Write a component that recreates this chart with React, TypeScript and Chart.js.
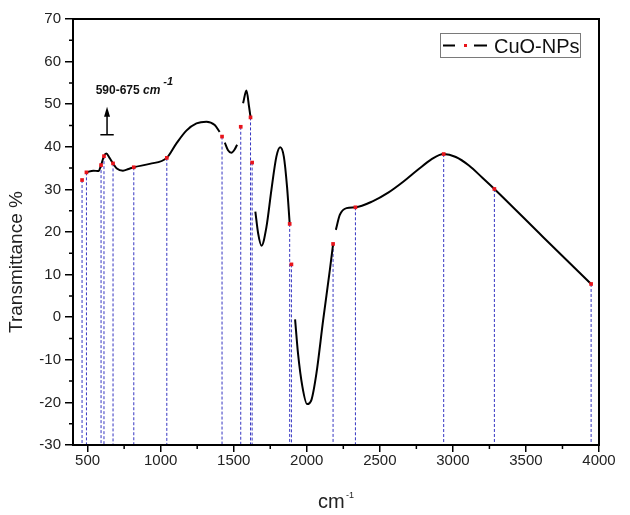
import React, { useEffect, useRef } from "react";
import { Chart, registerables } from "chart.js";

Chart.register(...registerables);

const FONT = '"Liberation Sans", Arial, Helvetica, sans-serif';

// ---- axes ----
const xMin = 400;
const xMax = 4000;
const yMin = -30;
const yMax = 70;
const xTickValues = [500, 1000, 1500, 2000, 2500, 3000, 3500, 4000];
const yTickValues = [-30, -20, -10, 0, 10, 20, 30, 40, 50, 60, 70];
const xMinorTicks = [750, 1250, 1750, 2250, 2750, 3250, 3750];
const yMinorTicks = [-25, -15, -5, 5, 15, 25, 35, 45, 55, 65];

// ---- spectrum (null = break in the trace) ----
const curveWavenumber = [
  492, 540, 575, 592, 612, 628, 650, 674, 700, 742, 780, 816, 925, 1042, 1108, 1176, 1245, 1313, 1370, 1404,
  1420,
  1439, 1461, 1484, 1505, 1523,
  1545,
  1564, 1587, 1605, 1615,
  1630,
  1648, 1667, 1690, 1724, 1758, 1792, 1818, 1843, 1865, 1883,
  1900,
  1920, 1940, 1970, 2002, 2032, 2066, 2112, 2158, 2180,
  2190,
  2199, 2226, 2272, 2333, 2450, 2560, 2660, 2760, 2850, 2937, 3020, 3110, 3200, 3284, 3615, 3946,
];
const curveTransmittance = [
  34.0, 34.4, 34.3, 35.7, 37.8, 38.4, 37.4, 36.1, 34.9, 34.4, 34.8, 35.2, 36.0, 37.4, 40.8, 43.8, 45.5, 45.9, 45.1, 43.5,
  null,
  41.0, 39.2, 38.6, 39.3, 40.5,
  null,
  50.2, 53.2, 49.4, 47.0,
  null,
  24.8, 19.7, 16.8, 21.2, 29.9, 37.7, 39.9, 37.7, 30.6, 22.0,
  null,
  -0.5, -8.5, -16.3, -20.4, -19.4, -13.2, -0.7, 11.1, 17.1,
  null,
  20.5, 24.0, 25.6, 25.8, 27.2, 29.3, 31.8, 34.6, 37.0, 38.3, 37.6, 35.6, 32.8, 30.1, 18.9, 7.8,
];

// ---- marked peaks ----
const peakWavenumber = [462, 492, 592, 612, 674, 816, 1042, 1420, 1548, 1615, 1626, 1883, 1895, 2180, 2333, 2937, 3284, 3946];
const peakTransmittance = [32.2, 34.0, 35.7, 37.8, 36.1, 35.2, 37.4, 42.4, 44.7, 46.9, 36.3, 21.9, 12.4, 17.2, 25.8, 38.3, 30.1, 7.8];

// ---- annotation ----
const annotationRange = "590-675";
const annotationUnit = "cm";
const annotationExp = "-1";
const annotationTextAt = { x: 555, y: 52.3 };
const arrowAt = { x: 633, yBase: 42.8, yTip: 49.4 };

const seriesName = "CuO-NPs";
const xTitle = "cm";
const xTitleExp = "-1";
const yTitle = "Transmittance %";

const decorPlugin = {
  id: "decor",
  afterDraw(chart: any) {
    const { ctx, chartArea, scales } = chart;
    const { left, right, top, bottom } = chartArea;
    const xs = scales.x;
    const ys = scales.y;
    ctx.save();

    // frame
    ctx.strokeStyle = "#000";
    ctx.lineWidth = 2;
    ctx.strokeRect(left, top, right - left, bottom - top);

    // minor ticks
    ctx.lineWidth = 1.5;
    ctx.beginPath();
    yMinorTicks.forEach((v) => {
      const py = ys.getPixelForValue(v);
      ctx.moveTo(left - 4, py);
      ctx.lineTo(left, py);
    });
    xMinorTicks.forEach((v) => {
      const px = xs.getPixelForValue(v);
      ctx.moveTo(px, bottom);
      ctx.lineTo(px, bottom + 4);
    });
    ctx.stroke();

    // y title
    ctx.fillStyle = "#222";
    ctx.font = `19px ${FONT}`;
    ctx.textAlign = "center";
    ctx.textBaseline = "middle";
    ctx.save();
    ctx.translate(16.5, (top + bottom) / 2 + 30);
    ctx.rotate(-Math.PI / 2);
    ctx.fillText(yTitle, 0, 0);
    ctx.restore();

    // x title with superscript
    ctx.textAlign = "left";
    ctx.textBaseline = "alphabetic";
    ctx.font = `20px ${FONT}`;
    const wMain = ctx.measureText(xTitle).width;
    ctx.font = `9px ${FONT}`;
    const wExp = ctx.measureText(xTitleExp).width;
    const cx = (left + right) / 2;
    const startX = cx - (wMain + 1.5 + wExp) / 2;
    ctx.font = `20px ${FONT}`;
    ctx.fillText(xTitle, startX, 508);
    ctx.font = `9px ${FONT}`;
    ctx.fillText(xTitleExp, startX + wMain + 1.5, 498);

    // legend
    const lx = right - 159;
    const ly = top + 13.5;
    ctx.strokeStyle = "#7a7a7a";
    ctx.lineWidth = 1;
    ctx.strokeRect(Math.round(lx) + 0.5, Math.round(ly) + 0.5, 140, 24);
    const lyMid = Math.round(ly) + 12.5;
    ctx.strokeStyle = "#000";
    ctx.lineWidth = 2;
    ctx.beginPath();
    ctx.moveTo(lx + 3, lyMid);
    ctx.lineTo(lx + 15, lyMid);
    ctx.moveTo(lx + 34, lyMid);
    ctx.lineTo(lx + 47, lyMid);
    ctx.stroke();
    ctx.fillStyle = "#e8141b";
    ctx.fillRect(lx + 24, lyMid - 1.5, 3, 3);
    ctx.fillStyle = "#111";
    ctx.font = `20px ${FONT}`;
    ctx.fillText(seriesName, lx + 54, Math.round(ly) + 20);

    // annotation
    const tx = xs.getPixelForValue(annotationTextAt.x);
    const ty = ys.getPixelForValue(annotationTextAt.y);
    ctx.fillStyle = "#111";
    ctx.font = `bold 12px ${FONT}`;
    const rangeText = annotationRange + " ";
    ctx.fillText(rangeText, tx, ty);
    const w1 = ctx.measureText(rangeText).width;
    ctx.font = `italic bold 12px ${FONT}`;
    ctx.fillText(annotationUnit, tx + w1, ty);
    const w2 = ctx.measureText(annotationUnit).width;
    ctx.font = `italic bold 11px ${FONT}`;
    ctx.fillText(annotationExp, tx + w1 + w2 + 3, ty - 9.5);

    // arrow
    const ax = xs.getPixelForValue(arrowAt.x);
    const aBase = ys.getPixelForValue(arrowAt.yBase);
    const aTip = ys.getPixelForValue(arrowAt.yTip);
    ctx.strokeStyle = "#000";
    ctx.lineWidth = 1.5;
    ctx.beginPath();
    ctx.moveTo(ax, aBase);
    ctx.lineTo(ax, aTip + 8);
    ctx.moveTo(ax - 6.7, aBase);
    ctx.lineTo(ax + 6.7, aBase);
    ctx.stroke();
    ctx.fillStyle = "#000";
    ctx.beginPath();
    ctx.moveTo(ax, aTip);
    ctx.lineTo(ax - 3, aTip + 10);
    ctx.lineTo(ax + 3, aTip + 10);
    ctx.closePath();
    ctx.fill();

    ctx.restore();
  },
};

export default function App() {
  const ref = useRef<HTMLCanvasElement>(null);

  useEffect(() => {
    const curveData = curveWavenumber.map((x, i) => ({ x, y: curveTransmittance[i] }));
    const peakData = peakWavenumber.map((x, i) => ({ x, y: peakTransmittance[i] }));
    const dropData: any[] = [];
    peakWavenumber.forEach((x, i) => {
      dropData.push({ x, y: peakTransmittance[i] });
      dropData.push({ x, y: yMin });
      dropData.push({ x, y: null });
    });

    const chart = new Chart(ref.current as HTMLCanvasElement, {
      type: "line",
      data: {
        datasets: [
          {
            label: "peaks",
            data: peakData,
            showLine: false,
            pointStyle: "rect",
            pointRadius: 2.6,
            pointBackgroundColor: "#e8141b",
            pointBorderWidth: 0,
            order: 0,
          } as any,
          {
            label: seriesName,
            data: curveData,
            borderColor: "#000",
            borderWidth: 2,
            pointRadius: 0,
            cubicInterpolationMode: "monotone",
            spanGaps: false,
            order: 1,
          } as any,
          {
            label: "drops",
            data: dropData,
            borderColor: "#3535c2",
            borderWidth: 1,
            borderDash: [3, 2],
            pointRadius: 0,
            tension: 0,
            spanGaps: false,
            order: 2,
          } as any,
        ],
      },
      options: {
        responsive: false,
        animation: false,
        events: [],
        layout: { padding: { left: 0, right: 31, top: 19, bottom: 0 } },
        plugins: {
          legend: { display: false },
          tooltip: { enabled: false },
        },
        scales: {
          x: {
            type: "linear",
            min: xMin,
            max: xMax,
            afterBuildTicks: (scale: any) => {
              scale.ticks = xTickValues.map((v) => ({ value: v }));
            },
            afterFit: (scale: any) => {
              scale.height = 70;
            },
            grid: {
              display: true,
              drawOnChartArea: false,
              drawTicks: true,
              tickLength: 7,
              color: "#000",
              lineWidth: 1.5,
            },
            border: { display: true, color: "#000", width: 2 },
            ticks: {
              color: "#222",
              font: { family: FONT, size: 15 },
              padding: 0,
              maxRotation: 0,
              autoSkip: false,
              callback: (v: any) => String(v),
            },
          },
          y: {
            type: "linear",
            min: yMin,
            max: yMax,
            afterBuildTicks: (scale: any) => {
              scale.ticks = yTickValues.map((v) => ({ value: v }));
            },
            afterFit: (scale: any) => {
              scale.width = 73;
            },
            grid: {
              display: true,
              drawOnChartArea: false,
              drawTicks: true,
              tickLength: 8,
              color: "#000",
              lineWidth: 1.5,
            },
            border: { display: true, color: "#000", width: 2 },
            ticks: {
              color: "#222",
              font: { family: FONT, size: 15 },
              padding: 4,
              autoSkip: false,
              callback: (v: any) => String(v),
            },
          },
        },
      } as any,
      plugins: [decorPlugin],
    });
    return () => chart.destroy();
  }, []);

  return (
    <div style={{ position: "absolute", left: 0, top: 0, width: 630, height: 515, background: "#fff" }}>
      <canvas ref={ref} width={630} height={515} style={{ display: "block", width: 630, height: 515 }} />
    </div>
  );
}
